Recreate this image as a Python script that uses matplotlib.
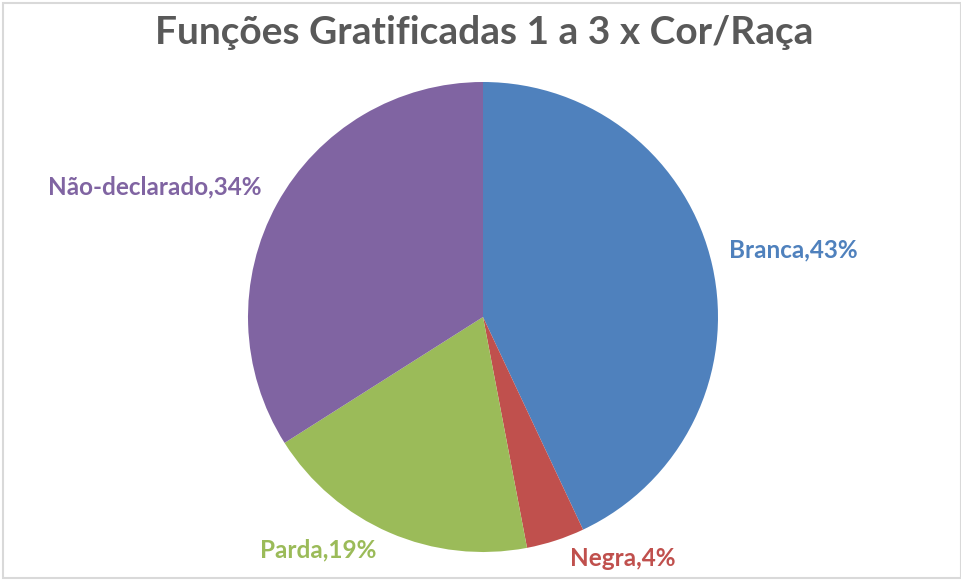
import matplotlib.pyplot as plt
from matplotlib.patches import Rectangle

categories = ['Branca', 'Negra', 'Parda', 'Não-declarado']
values = [43, 4, 19, 34]
colors = ['#4F81BD', '#C0504D', '#9BBB59', '#8064A2']
# label centers in pie-radius units
label_pos = [(1.319, 0.285), (0.596, -1.026), (-0.702, -0.991), (-1.396, 0.553)]

plt.rcParams['font.family'] = ['Lato', 'DejaVu Sans']

fig = plt.figure(figsize=(9.62, 5.8), dpi=100)
ax = fig.add_axes([248 / 962, 28 / 580, 470 / 962, 470 / 580])
ax.pie(values, colors=colors, startangle=90, counterclock=False, radius=1,
       wedgeprops=dict(edgecolor='none'))
ax.set_xlim(-1, 1)
ax.set_ylim(-1, 1)
ax.set_aspect('equal')
ax.axis('off')

for cat, val, col, (x, y) in zip(categories, values, colors, label_pos):
    ax.text(x, y, f'{cat},{val}%', color=col, fontsize=17.5, fontweight='bold',
            ha='center', va='center', clip_on=False)

fig.text(484 / 962, 1 - 33 / 580, 'Funções Gratificadas 1 a 3 x Cor/Raça',
         ha='center', va='center', fontsize=28, fontweight='bold', color='#595959')

fig.patches.append(Rectangle((3 / 962, 2 / 580), 958 / 962, 575 / 580,
                             transform=fig.transFigure, fill=False,
                             edgecolor='#D9D9D9', linewidth=1.5))

fig.savefig('out.png', dpi=100)
